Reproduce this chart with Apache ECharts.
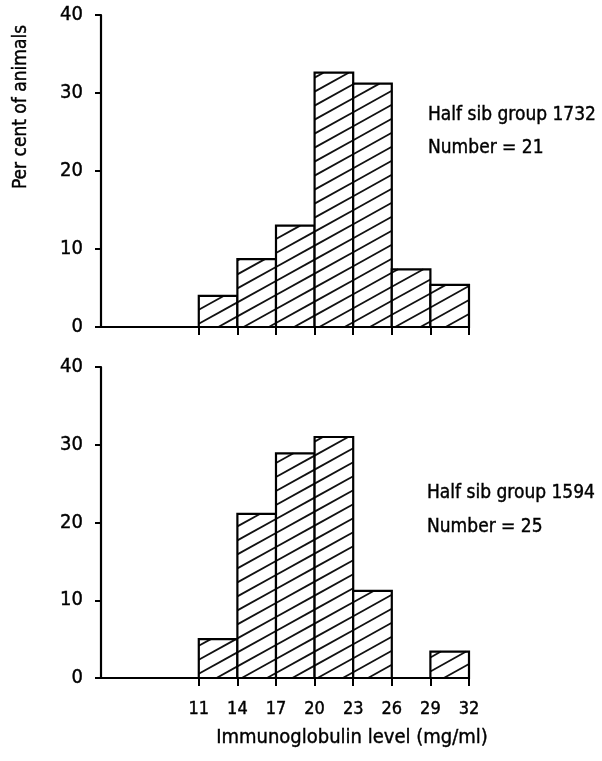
<!DOCTYPE html>
<html>
<head>
<meta charset="utf-8">
<script src="https://cdn.jsdelivr.net/npm/echarts@6/dist/echarts.min.js"></script>
<style>
html,body{margin:0;padding:0;background:#fff;}
#chart{width:602px;height:761px;}
</style>
</head>
<body>
<div id="chart"></div>
<script>
// Bin edges (mg/ml)
var binStarts = [11, 14, 17, 20, 23, 26, 29];
var binEnds   = [14, 17, 20, 23, 26, 29, 32];
// Per cent of animals
var group1732 = [4.0, 8.7, 13.0, 32.6, 31.2, 7.4, 5.4];
var group1594 = [5.0, 21.1, 28.9, 31.0, 11.2, 0, 3.4];
// Tick labels
var xTicks = [11, 14, 17, 20, 23, 26, 29, 32];
var yTicks = [0, 10, 20, 30, 40];

var FONT = '"DejaVu Sans Condensed", "Liberation Sans Narrow", "DejaVu Sans", sans-serif';

function toData(vals) {
  var out = [];
  for (var i = 0; i < vals.length; i++) {
    out.push([binStarts[i], binEnds[i], vals[i]]);
  }
  return out;
}

var SLOPE = Math.tan(29 * Math.PI / 180);
var SPACING = 14;

function renderHatchedBar(params, api) {
  var v = api.value(2);
  if (!v) return null;
  var tl = api.coord([api.value(0), v]);
  var br = api.coord([api.value(1), 0]);
  var x0 = tl[0], y0 = tl[1], x1 = br[0], y1 = br[1];
  var children = [];
  children.push({
    type: 'rect',
    shape: {x: x0, y: y0, width: x1 - x0, height: y1 - y0},
    style: {fill: '#fff', stroke: null}
  });
  var cMin = y0 + SLOPE * x0, cMax = y1 + SLOPE * x1;
  var n0 = Math.ceil(cMin / SPACING), n1 = Math.floor(cMax / SPACING);
  for (var n = n0; n <= n1; n++) {
    var c = n * SPACING;
    var xa = Math.max(x0, (c - y1) / SLOPE);
    var xb = Math.min(x1, (c - y0) / SLOPE);
    if (xb - xa < 0.5) continue;
    children.push({
      type: 'line',
      shape: {x1: xa, y1: c - SLOPE * xa, x2: xb, y2: c - SLOPE * xb},
      style: {stroke: '#111', lineWidth: 1.8}
    });
  }
  children.push({
    type: 'rect',
    shape: {x: x0, y: y0, width: x1 - x0, height: y1 - y0},
    style: {fill: null, stroke: '#000', lineWidth: 2.2}
  });
  return {type: 'group', children: children};
}

var TEXT_BORDER = {textBorderColor: '#000', textBorderWidth: 0.4};

function makeX(idx, showLabels) {
  return {
    type: 'value', gridIndex: idx, min: 3.4, max: 32,
    splitLine: {show: false},
    axisLine: {show: true, lineStyle: {color: '#000', width: 2.2}},
    axisTick: {show: true, inside: false, length: 8, customValues: xTicks, lineStyle: {color: '#000', width: 2}},
    axisLabel: Object.assign({show: showLabels, customValues: xTicks, margin: 22, color: '#000', fontSize: 18, fontFamily: FONT}, TEXT_BORDER),
    minorTick: {show: false}
  };
}
function makeY(idx) {
  return {
    type: 'value', gridIndex: idx, min: 0, max: 40, interval: 10,
    splitLine: {show: false},
    axisLine: {show: true, lineStyle: {color: '#000', width: 2.2}},
    axisTick: {show: true, inside: false, length: 6, lineStyle: {color: '#000', width: 2}},
    axisLabel: Object.assign({show: true, margin: 18, color: '#000', fontSize: 20, fontFamily: FONT}, TEXT_BORDER)
  };
}

function label(x, y, text, size, rot) {
  return {type: 'text', x: x, y: y, rotation: rot || 0,
    style: {text: text, fill: '#000', stroke: '#000', lineWidth: 0.4, font: size + 'px ' + FONT,
            align: rot ? 'center' : (size === 20 ? 'center' : 'left'), verticalAlign: 'middle'}};
}

var chart = echarts.init(document.getElementById('chart'), null, {renderer: 'canvas'});
chart.setOption({
  backgroundColor: '#fff',
  animation: false,
  grid: [
    {left: 101, right: 133, top: 15, height: 312},
    {left: 101, right: 133, top: 367, height: 311}
  ],
  xAxis: [makeX(0, false), makeX(1, true)],
  yAxis: [makeY(0), makeY(1)],
  series: [
    {type: 'custom', xAxisIndex: 0, yAxisIndex: 0, renderItem: renderHatchedBar,
     encode: {x: [0, 1], y: 2}, data: toData(group1732), clip: false, z: 1},
    {type: 'custom', xAxisIndex: 1, yAxisIndex: 1, renderItem: renderHatchedBar,
     encode: {x: [0, 1], y: 2}, data: toData(group1594), clip: false, z: 1}
  ],
  graphic: [
    label(21, 107, 'Per cent of animals', 19, Math.PI / 2),
    label(428, 115, 'Half sib group 1732', 19),
    label(428, 148, 'Number = 21', 19),
    label(427, 493, 'Half sib group 1594', 19),
    label(427, 527, 'Number = 25', 19),
    label(352, 738, 'Immunoglobulin level (mg/ml)', 20)
  ]
});
</script>
</body>
</html>
